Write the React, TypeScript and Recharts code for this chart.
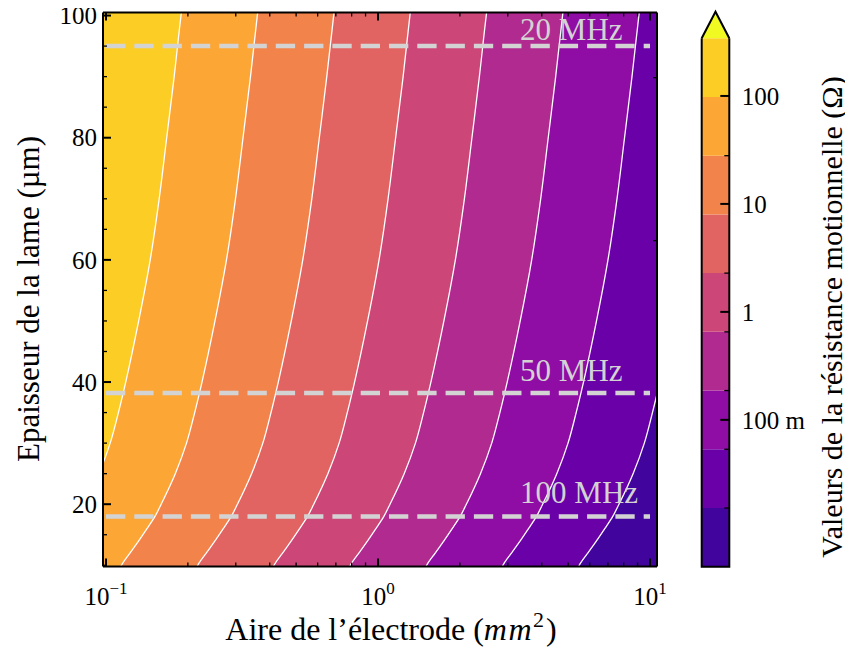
import React from 'react';
import { ComposedChart, Area, XAxis, YAxis, ReferenceArea, ReferenceLine, ReferenceDot } from 'recharts';

// Thickness (µm) rows at which the contour boundaries were read
const thickness = [9.8, 10, 12, 14, 16, 18, 20, 25, 30, 35, 40, 50, 60, 70, 80, 90, 100, 100.5];
// Electrode area (mm²) of each contour line at those thicknesses (left to right)
const contour1 = [0.0595, 0.0598, 0.0642, 0.0691, 0.0742, 0.0794, 0.0836, 0.0942, 0.1036, 0.1111, 0.1182, 0.1319, 0.1454, 0.1569, 0.1672, 0.1781, 0.1887, 0.1893];
const contour2 = [0.1134, 0.114, 0.1225, 0.1319, 0.1415, 0.1514, 0.1595, 0.1798, 0.1977, 0.2119, 0.2254, 0.2516, 0.2773, 0.2993, 0.319, 0.3398, 0.36, 0.3611];
const contour3 = [0.2164, 0.2175, 0.2337, 0.2516, 0.2699, 0.2888, 0.3043, 0.343, 0.3772, 0.4042, 0.43, 0.48, 0.529, 0.571, 0.6086, 0.6482, 0.687, 0.689];
const contour4 = [0.4128, 0.4149, 0.4458, 0.48, 0.5149, 0.5509, 0.5805, 0.6543, 0.7196, 0.7711, 0.8203, 0.9157, 1.009, 1.089, 1.161, 1.237, 1.31, 1.314];
const contour5 = [0.7875, 0.7915, 0.8505, 0.9157, 0.9823, 1.051, 1.107, 1.248, 1.373, 1.471, 1.565, 1.747, 1.925, 2.078, 2.215, 2.359, 2.5, 2.508];
const contour6 = [1.502, 1.51, 1.623, 1.747, 1.874, 2.005, 2.113, 2.381, 2.619, 2.806, 2.985, 3.333, 3.673, 3.964, 4.225, 4.5, 4.77, 4.785];
const contour7 = [2.866, 2.88, 3.095, 3.333, 3.575, 3.825, 4.03, 4.543, 4.996, 5.353, 5.695, 6.358, 7.006, 7.563, 8.06, 8.585, 9.1, 9.128];
const contour8 = [5.467, 5.495, 5.905, 6.358, 6.82, 7.297, 7.688, 8.666, 9.531, 10.21, 10.87, 12.13, 13.37, 14.43, 15.38, 16.38, 17.36, 17.4];

// Colour bands (plasma), lowest resistance first, plus the "extend max" colour
const bandColors = ['#41049d', '#6a00a8', '#8f0da4', '#b12a90', '#cc4778', '#e16462', '#f2844b', '#fca636', '#fcce25'];
const extendColor = '#f0f921';
// Contour levels of the colour bar (Ω)
const cbLevels = [0.004365, 0.01527, 0.0534, 0.1868, 0.6533, 2.286, 7.995, 27.97, 97.8, 342];
const cbTop = 603;
const cbMajorTicks = [0.1, 1, 10, 100];
const cbMajorLabels = ['100 m', '1', '10', '100'];
const cbMinorTicks = [0.01527, 0.0534, 0.1868, 0.6533, 2.286, 27.97];

// Axes
const xDomain = [0.0975, 10.61];
const yDomain = [9.8, 100.5];
const xMajorTicks = [0.1, 1, 10];
const xMajorExps = ['\u22121', '0', '1'];
const xMinorTicks = [0.2, 0.3, 0.4, 0.5, 0.6, 0.7, 0.8, 0.9, 2, 3, 4, 5, 6, 7, 8, 9];
const yMajorTicks = [20, 40, 60, 80, 100];
const yMinorTicks = [10, 15, 25, 30, 35, 45, 50, 55, 65, 70, 75, 85, 90, 95];

// Resonance-frequency thickness lines
const freqThickness = [95, 38.2, 18];
const freqLabels = ['20 MHz', '50 MHz', '100 MHz'];
const freqLabelY = [96, 40.1, 20.2];
const freqLabelX = 3.33;

const FONT = '"Liberation Serif", "DejaVu Serif", serif';

const contours = [contour1, contour2, contour3, contour4, contour5, contour6, contour7, contour8];
const rows = thickness.map((t, i) => {
  const r: any = { y: t };
  contours.forEach((c, k) => { r['c' + (k + 1)] = c[i]; });
  return r;
});
const xTicks = [...xMajorTicks, ...xMinorTicks].sort((a, b) => a - b);
const yTicks = [...yMajorTicks, ...yMinorTicks].sort((a, b) => a - b);
const cbTicks = [...cbMajorTicks, ...cbMinorTicks].sort((a, b) => a - b);

const XTickBottom = (props: any) => {
  const { x, y, payload } = props;
  const mi = xMajorTicks.indexOf(payload.value);
  const major = mi >= 0;
  return (
    <g>
      <line x1={x} x2={x} y1={y} y2={y - (major ? 8 : 4)} stroke="#000" strokeWidth={major ? 2 : 1.3} />
      {major && (
        <text x={x} y={y + 38} textAnchor="middle" fontFamily={FONT} fontSize={25} fill="#000">
          10<tspan dy={-11} fontSize={17}>{xMajorExps[mi]}</tspan>
        </text>
      )}
    </g>
  );
};
const XTickTop = (props: any) => {
  const { x, y, payload } = props;
  const major = xMajorTicks.indexOf(payload.value) >= 0;
  return <line x1={x} x2={x} y1={y} y2={y + (major ? 8 : 4)} stroke="#000" strokeWidth={major ? 2 : 1.3} />;
};
const YTickLeft = (props: any) => {
  const { x, y, payload } = props;
  const major = yMajorTicks.indexOf(payload.value) >= 0;
  return (
    <g>
      <line x1={x} x2={x + (major ? 8 : 4)} y1={y} y2={y} stroke="#000" strokeWidth={major ? 2 : 1.3} />
      {major && (
        <text x={x - 6} y={y} dy="0.35em" textAnchor="end" fontFamily={FONT} fontSize={25} fill="#000">
          {payload.value}
        </text>
      )}
    </g>
  );
};
const YTickRight = (props: any) => {
  const { x, y, payload } = props;
  const major = yMajorTicks.indexOf(payload.value) >= 0;
  return <line x1={x} x2={x - (major ? 8 : 4)} y1={y} y2={y} stroke="#000" strokeWidth={major ? 2 : 1.3} />;
};
const CbTick = (props: any) => {
  const { x, y, payload } = props;
  const mi = cbMajorTicks.indexOf(payload.value);
  const major = mi >= 0;
  return (
    <g>
      <line x1={x} x2={x - (major ? 9 : 5)} y1={y} y2={y} stroke="#000" strokeWidth={major ? 2 : 1.3} />
      {major && (
        <text x={x + 12.5} y={y} dy="0.35em" textAnchor="start" fontFamily={FONT} fontSize={25} fill="#000">
          {cbMajorLabels[mi]}
        </text>
      )}
    </g>
  );
};

const frameStyle = { stroke: '#000', strokeWidth: 2 };

export default function App() {
  const order = [7, 6, 5, 4, 3, 2, 1, 0];
  return (
    <div style={{ position: 'relative', width: 845, height: 642, fontFamily: FONT, background: '#fff' }}>
      <div style={{ position: 'absolute', left: 0, top: -8 }}>
        <ComposedChart
          width={700}
          height={650}
          data={rows}
          layout="vertical"
          margin={{ top: 11.5, right: 50, bottom: 82.5, left: 94 }}
        >
          <ReferenceArea x1={xDomain[0]} x2={xDomain[1]} y1={yDomain[0]} y2={yDomain[1]} fill={bandColors[0]} fillOpacity={1} stroke="none" ifOverflow="visible" />
          {order.map((k) => (
            <Area
              key={k}
              dataKey={'c' + (k + 1)}
              type="monotone"
              fill={bandColors[8 - k]}
              fillOpacity={1}
              stroke="#ffffff"
              strokeWidth={1.3}
              isAnimationActive={false}
              dot={false}
              activeDot={false}
            />
          ))}
          {freqThickness.map((t, i) => (
            <ReferenceLine
              key={'fl' + i}
              segment={[{ x: 0.1, y: t }, { x: 10, y: t }]}
              stroke="#d3d3d3"
              strokeWidth={4.5}
              strokeDasharray="19.3 9"
              ifOverflow="visible"
            />
          ))}
          {freqLabels.map((lab, i) => (
            <ReferenceDot
              key={'lab' + i}
              x={freqLabelX}
              y={freqLabelY[i]}
              r={0}
              ifOverflow="visible"
              shape={(p: any) => (
                <text x={p.cx} y={p.cy} textAnchor="start" fontFamily={FONT} fontSize={31} fill="#d3d3d3">
                  {lab}
                </text>
              )}
            />
          ))}
          <XAxis
            type="number"
            scale="log"
            domain={xDomain}
            allowDataOverflow
            ticks={xTicks}
            interval={0}
            height={1}
            tickSize={0}
            tickMargin={0}
            axisLine={frameStyle}
            tickLine={false}
            tick={<XTickBottom />}
          />
          <XAxis
            xAxisId="top"
            orientation="top"
            type="number"
            scale="log"
            domain={xDomain}
            allowDataOverflow
            ticks={xTicks}
            interval={0}
            height={1}
            tickSize={0}
            tickMargin={0}
            axisLine={frameStyle}
            tickLine={false}
            tick={<XTickTop />}
          />
          <YAxis
            type="number"
            dataKey="y"
            domain={yDomain}
            reversed
            allowDataOverflow
            ticks={yTicks}
            interval={0}
            width={1}
            tickSize={0}
            tickMargin={0}
            axisLine={frameStyle}
            tickLine={false}
            tick={<YTickLeft />}
          />
          <YAxis
            yAxisId="right"
            orientation="right"
            type="number"
            domain={yDomain}
            reversed
            allowDataOverflow
            ticks={yTicks}
            interval={0}
            width={1}
            tickSize={0}
            tickMargin={0}
            axisLine={frameStyle}
            tickLine={false}
            tick={<YTickRight />}
          />
        </ComposedChart>
      </div>
      <div style={{ position: 'absolute', left: 660, top: 0 }}>
        <ComposedChart
          width={185}
          height={642}
          data={[{ v: 0 }]}
          margin={{ top: 3.7, right: 122.7, bottom: 83.3, left: 33.7 }}
        >
          <XAxis type="number" dataKey="v" domain={[0, 1]} hide />
          <YAxis
            orientation="right"
            type="number"
            scale="log"
            domain={[cbLevels[0], cbTop]}
            allowDataOverflow
            ticks={cbTicks}
            interval={0}
            width={1}
            tickSize={0}
            tickMargin={0}
            axisLine={false}
            tickLine={false}
            tick={<CbTick />}
          />
          {bandColors.map((c, i) => (
            <ReferenceArea key={'cb' + i} x1={0} x2={1} y1={cbLevels[i]} y2={cbLevels[i + 1]} fill={c} fillOpacity={1} stroke="none" />
          ))}
          <ReferenceArea
            x1={0}
            x2={1}
            y1={cbLevels[9]}
            y2={cbTop}
            ifOverflow="visible"
            shape={(p: any) => (
              <g>
                <polygon points={`${p.x},${p.y + p.height} ${p.x + p.width / 2},${p.y} ${p.x + p.width},${p.y + p.height}`} fill={extendColor} stroke="none" />
                <polyline points={`${p.x},${p.y + p.height} ${p.x + p.width / 2},${p.y} ${p.x + p.width},${p.y + p.height}`} fill="none" stroke="#000" strokeWidth={2} strokeLinejoin="miter" />
              </g>
            )}
          />
          <ReferenceArea
            x1={0}
            x2={1}
            y1={cbLevels[0]}
            y2={cbLevels[9]}
            ifOverflow="visible"
            shape={(p: any) => (
              <path d={`M${p.x},${p.y} L${p.x},${p.y + p.height} L${p.x + p.width},${p.y + p.height} L${p.x + p.width},${p.y}`} fill="none" stroke="#000" strokeWidth={2} />
            )}
          />
        </ComposedChart>
      </div>
      <svg width={845} height={642} style={{ position: 'absolute', left: 0, top: 0, pointerEvents: 'none' }}>
        <text x={383} y={632} textAnchor="middle" fontFamily={FONT} fontSize={32} fill="#000">
          Aire de l’électrode (<tspan fontStyle="italic" letterSpacing={1.5}>mm</tspan>
          <tspan dy={-13} fontSize={22}>2</tspan>
          <tspan dy={13} dx={2}>)</tspan>
        </text>
        <text transform="translate(31,291) rotate(-90)" textAnchor="middle" fontFamily={FONT} fontSize={31} fill="#000">
          Epaisseur de la lame (µm)
        </text>
        <text transform="translate(834,309) rotate(-90)" textAnchor="middle" fontFamily={FONT} fontSize={30} fill="#000">
          Valeurs de la résistance motionnelle (Ω)
        </text>
      </svg>
    </div>
  );
}
